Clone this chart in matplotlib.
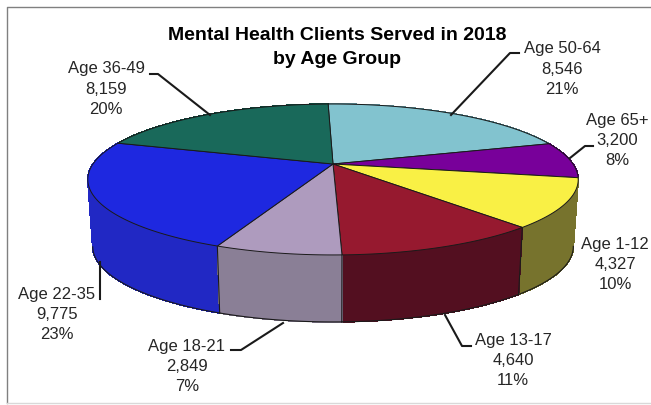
import numpy as np
import matplotlib as mpl
mpl.use('Agg')
import matplotlib.pyplot as plt
from matplotlib.patches import Polygon
from matplotlib.collections import PolyCollection

# clockwise from the top of the pie
groups = ["Age 50-64", "Age 65+", "Age 1-12", "Age 13-17", "Age 18-21", "Age 22-35", "Age 36-49"]
clients = [8546, 3200, 4327, 4640, 2849, 9775, 8159]
percents = ["21%", "8%", "10%", "11%", "7%", "23%", "20%"]

top_colors = ["#82c3cf", "#78009a", "#f9f045", "#96192f", "#ae9bbe", "#1e28e0", "#19695a"]
side_colors = ["#5d8d96", "#56006e", "#77732d", "#530f20", "#8a7f96", "#2128c4", "#0f4a3f"]

# pie projection, everything in reference pixels
CX, CY = 333, 165
A, B, K = 240, 72.3, 0.205
START = 91.4
DEPTH = 67

# label centre x, y of first line
label_pos = [(562, 49), (617, 121), (615, 245), (513, 341), (187, 347), (57, 295), (106, 69)]
leaders = [
    [(519, 54), (510, 54), (451, 116)],
    [(593, 147), (585, 147), (570, 159)],
    None,
    [(471, 347), (462, 347), (445, 316)],
    [(231, 351), (241, 351), (283, 324)],
    [(100, 300), (100, 263)],
    [(150, 75), (158, 75), (210, 116)],
]


def rim(t):
    # t in degrees, perspective view of a circle
    u, v = np.cos(np.radians(t)), np.sin(np.radians(t))
    w = 1 + K * v
    return CX + A * u / w, CY - B * v / w


def rim_low(t):
    x, y = rim(t)
    return CX + (x - CX) * 0.98, y + DEPTH


plt.rcParams['font.family'] = ['Liberation Sans', 'DejaVu Sans']
fig = plt.figure(figsize=(6.51, 4.06), dpi=100)
ax = fig.add_axes([0, 0, 1, 1])
ax.set_xlim(0, 651)
ax.set_ylim(406, 0)
ax.axis('off')

# frame: top, left and faint bottom only
ax.plot([651, 7, 7], [8, 8, 404], color='#808080', lw=1.0)
ax.plot([7, 651], [404, 404], color='#d9d9d9', lw=1.0)

total = sum(clients)
edges = START - np.cumsum([0] + clients) * 360.0 / total
mids = (edges[:-1] + edges[1:]) / 2

# side walls back to front, swept in small quads so the silhouette has no notch
for i in np.argsort(-np.sin(np.radians(mids))):
    t = np.linspace(edges[i], edges[i + 1], 120)
    xt, yt = rim(t)
    xb, yb = rim_low(t)
    quads = [[(xt[j], yt[j]), (xt[j + 1], yt[j + 1]), (xb[j + 1], yb[j + 1]), (xb[j], yb[j])]
             for j in range(len(t) - 1)]
    ax.add_collection(PolyCollection(quads, facecolors=side_colors[i], edgecolors=side_colors[i],
                                     linewidths=0.5, antialiaseds=False, zorder=2))

    # dark line along the bottom, only where it is at the front
    front = np.sin(np.radians(t)) < -0.2
    ax.plot(xb[front], yb[front], color='#1a1a1a', lw=0.8, zorder=2.5)

    # dark upright where two walls meet
    if np.sin(np.radians(edges[i + 1])) < -0.5:
        ax.plot([xt[-1], xb[-1]], [yt[-1], yb[-1]], color='#1a1a1a', lw=0.8, zorder=2.5)

for i in range(len(clients)):
    t = np.linspace(edges[i], edges[i + 1], 80)
    xt, yt = rim(t)
    pts = np.r_[[(CX, CY)], np.c_[xt, yt]]
    ax.add_patch(Polygon(pts, closed=True, fc=top_colors[i], ec='#1a1a1a', lw=0.7, zorder=3))

for i, name in enumerate(groups):
    x, y = label_pos[i]
    ax.text(x, y, name, ha='center', va='center', fontsize=12, color='#262626')
    ax.text(x, y + 20, f"{clients[i]:,}", ha='center', va='center', fontsize=12, color='#262626')
    ax.text(x, y + 40, percents[i], ha='center', va='center', fontsize=12, color='#262626')
    if leaders[i]:
        lx, ly = zip(*leaders[i])
        ax.plot(lx, ly, color='#1a1a1a', lw=1.5, zorder=4)

ax.text(337, 35, "Mental Health Clients Served in 2018", ha='center', va='center',
        fontsize=14, fontweight='bold', color='black')
ax.text(337, 59, "by Age Group", ha='center', va='center',
        fontsize=14, fontweight='bold', color='black')

fig.savefig('out.png', dpi=100)
